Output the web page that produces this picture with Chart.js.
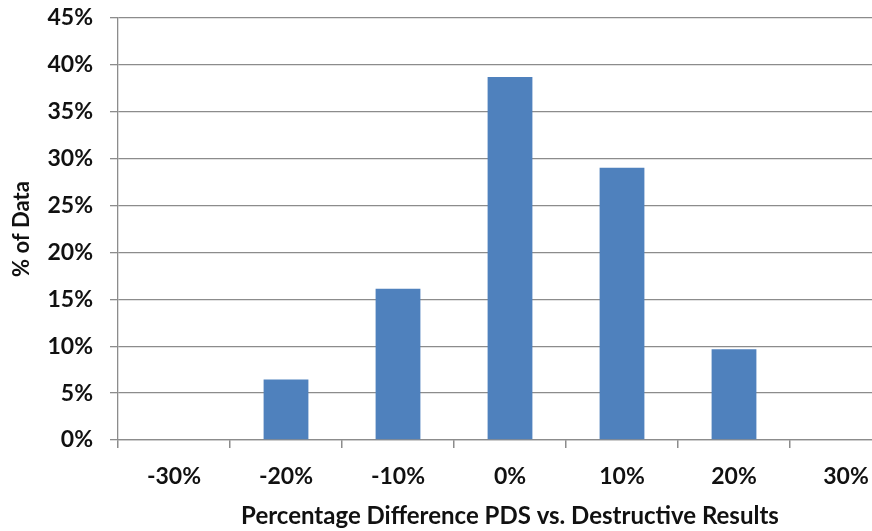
<!DOCTYPE html>
<html lang="en">
<head>
    <meta charset="UTF-8">
    <title>PDS vs destructive</title>
    <style type="text/css">
        body{
            margin: 0;
            overflow: hidden;
            background: #fff;
        }
        .chartbox{
            width: 902px;
            height: 531px;
        }
    </style>
    <script src="https://cdn.jsdelivr.net/npm/chart.js@4.4.1/dist/chart.umd.min.js"></script>
</head>
<body>
    <div class="chartbox">
        <canvas id="myChart"></canvas>
    </div>

    <script>
    // data (% of 31 samples)
    const categories = ['-30%', '-20%', '-10%', '0%', '10%', '20%', '30%'];
    const percentOfData = [0, 6.45, 16.13, 38.71, 29.03, 9.68, 0];
    const yTicks = [0, 5, 10, 15, 20, 25, 30, 35, 40, 45];

    const gray = '#8c8c8c';
    const ink = '#111';

    Chart.defaults.font.family = 'Lato, "Liberation Sans", sans-serif';
    Chart.defaults.font.weight = 'bold';
    Chart.defaults.color = ink;

    //setup block
    const data = {
        labels: categories,
        datasets: [{
            data: percentOfData,
            backgroundColor: '#4f81bd',
            borderWidth: 0,
            categoryPercentage: 1,
            barPercentage: 0.4
        }]
    };

    //config block
    const config = {
        type: 'bar',
        data,
        options: {
            responsive: true,
            maintainAspectRatio: false,
            animation: false,
            layout: {
                padding: { top: 18, right: 0, left: 0, bottom: 0 }
            },
            plugins: {
                legend: { display: false },
                tooltip: { enabled: false }
            },
            scales: {
                x: {
                    grid: {
                        display: true,
                        drawOnChartArea: false,
                        drawTicks: true,
                        tickLength: 8,
                        color: gray,
                        lineWidth: 1.5,
                        offset: true
                    },
                    border: { display: true, color: gray, width: 1.3 },
                    ticks: {
                        padding: 15,
                        font: { size: 23 },
                        maxRotation: 0
                    },
                    title: {
                        display: true,
                        text: 'Percentage Difference PDS vs. Destructive Results',
                        font: { size: 24 },
                        padding: { top: 4, bottom: 0 }
                    },
                    afterFit: scale => { scale.height = 91; }
                },
                y: {
                    min: 0,
                    max: 45,
                    afterBuildTicks: scale => {
                        scale.ticks = yTicks.map(v => ({ value: v }));
                    },
                    grid: {
                        color: gray,
                        lineWidth: 1.3,
                        tickLength: 8
                    },
                    border: { display: true, color: gray, width: 1.3 },
                    ticks: {
                        padding: 17,
                        font: { size: 23 },
                        callback: v => v + '%'
                    },
                    title: {
                        display: true,
                        text: '% of Data',
                        font: { size: 22 },
                        padding: { top: 9, bottom: 0 }
                    },
                    afterFit: scale => {
                        scale.width = 118;
                        scale.paddingTop = 0;
                        scale.paddingBottom = 0;
                    }
                }
            }
        }
    };

    //render init block
    const myChart = new Chart(
        document.getElementById('myChart'),
        config
    );
    </script>
</body>
</html>
